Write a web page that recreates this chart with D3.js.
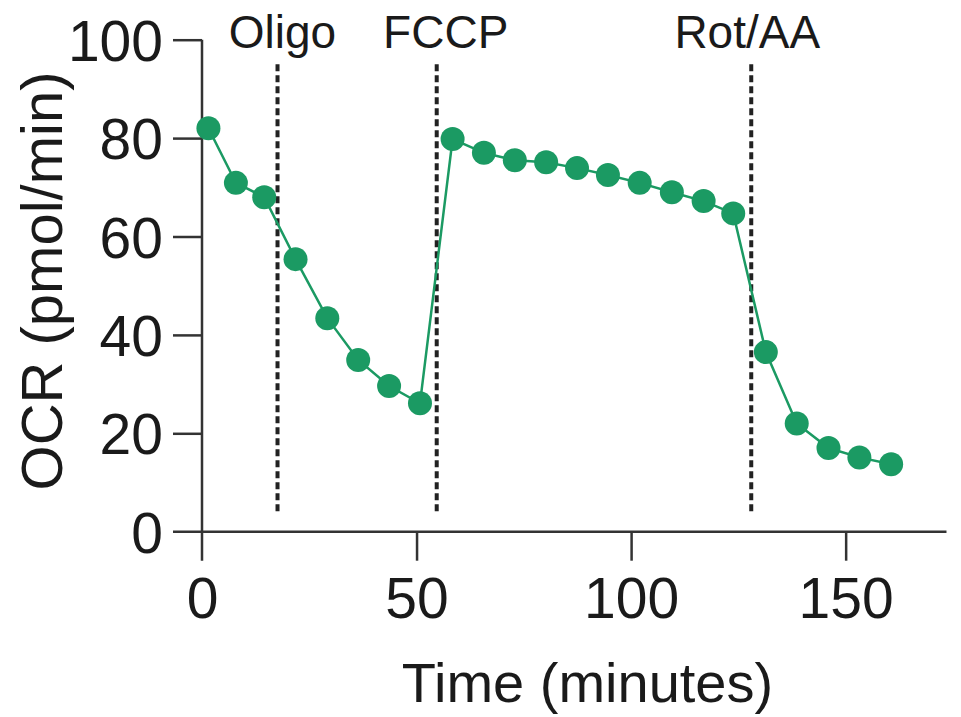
<!DOCTYPE html>
<html>
<head>
<meta charset="utf-8">
<script src="https://cdn.jsdelivr.net/npm/d3@7"></script>
<style>
  body { margin: 0; background: #fff; }
  svg { display: block; }
  text { font-family: "Liberation Sans", Arial, sans-serif; fill: #1a1a1a; }
</style>
</head>
<body>
<div id="chart"></div>
<script>
// OCR trace data
const times = [1.5, 7.9, 14.5, 21.8, 29.2, 36.4, 43.6, 50.8, 58.4, 65.7, 72.9, 80.2,
    87.4, 94.6, 102, 109.5, 116.9, 123.8, 131.4, 138.6, 146, 153.2, 160.6];
const ocr = [82.0, 70.9, 68.0, 55.4, 43.4, 34.9, 29.6, 26.1, 79.8, 77.0, 75.5, 75.1,
    73.9, 72.5, 70.9, 69.0, 67.2, 64.7, 36.5, 22.0, 17.0, 15.1, 13.7];

// injections
const injectionNames = ["Oligo", "FCCP", "Rot/AA"];
const injectionTimes = [17.6, 54.7, 128];
const injectionLabelShift = [5, 9, -4];

const xTicks = [0, 50, 100, 150];
const yTicks = [0, 20, 40, 60, 80, 100];

const width = 961;
const height = 717;
const margin = { top: 40, left: 202, bottom: 185, right: 15 };

const svg = d3.select("#chart")
    .append("svg")
    .attr("width", width)
    .attr("height", height);

// scales
const x = d3.scaleLinear()
    .domain([0, 173.5])
    .range([margin.left, margin.left + 173.5 * 4.291]);

const y = d3.scaleLinear()
    .domain([0, 100])
    .range([531.7, 39.7]);

const axisColor = "#333";
const tickLen = 29;

// y-axis (offset style: line runs down to the x tick)
const yAxis = svg.append("g")
    .attr("transform", "translate(" + x(0) + ",0)")
    .call(
        d3.axisLeft(y)
            .tickValues(yTicks)
            .tickSize(tickLen)
            .tickPadding(10)
            .tickSizeOuter(0)
    );
yAxis.select(".domain").remove();
yAxis.append("line")
    .attr("x1", 0).attr("x2", 0)
    .attr("y1", y(100)).attr("y2", y(0) + tickLen)
    .attr("stroke", axisColor)
    .attr("stroke-width", 2.5);

// x-axis
const xAxis = svg.append("g")
    .attr("transform", "translate(0," + y(0) + ")")
    .call(
        d3.axisBottom(x)
            .tickValues(xTicks)
            .tickSize(tickLen)
            .tickPadding(17)
            .tickSizeOuter(0)
    );
xAxis.select(".domain").remove();
xAxis.append("line")
    .attr("x1", x(0) - tickLen).attr("x2", x(173.5))
    .attr("y1", 0).attr("y2", 0)
    .attr("stroke", axisColor)
    .attr("stroke-width", 2.5);

[xAxis, yAxis].forEach(g => {
    g.selectAll(".tick line")
        .attr("stroke", axisColor)
        .attr("stroke-width", 2.5);
    g.selectAll(".tick text")
        .attr("font-size", "57px")
        .attr("fill", "#1a1a1a")
        .style("font-family", "'Liberation Sans', Arial, sans-serif");
});
yAxis.selectAll(".tick text").attr("dy", "0.36em");
yAxis.selectAll(".tick").filter(d => d === 0).select("line").remove();
xAxis.selectAll(".tick").filter(d => d === 0).select("line").remove();

// axis titles
svg.append("text")
    .attr("x", (393 + 782) / 2)
    .attr("y", 702)
    .attr("text-anchor", "middle")
    .attr("font-size", "56px")
    .text("Time (minutes)");

svg.append("text")
    .attr("transform", "translate(62," + 281 + ") rotate(-90)")
    .attr("text-anchor", "middle")
    .attr("font-size", "58px")
    .text("OCR (pmol/min)");

// injection lines
svg.selectAll(".injection")
    .data(injectionTimes)
    .enter()
    .append("line")
    .attr("class", "injection")
    .attr("x1", d => x(d))
    .attr("x2", d => x(d))
    .attr("y1", y(95))
    .attr("y2", y(3.8))
    .attr("stroke", "#222")
    .attr("stroke-width", 4)
    .attr("stroke-dasharray", "7,4");

svg.selectAll(".injection-label")
    .data(injectionNames)
    .enter()
    .append("text")
    .attr("class", "injection-label")
    .attr("x", (d, i) => x(injectionTimes[i]) + injectionLabelShift[i])
    .attr("y", 48)
    .attr("text-anchor", "middle")
    .attr("font-size", "46px")
    .text(d => d);

// trace
const green = "#1b9a63";
const points = times.map((t, i) => ({ t: t, v: ocr[i] }));

svg.append("path")
    .datum(points)
    .attr("fill", "none")
    .attr("stroke", green)
    .attr("stroke-width", 2.5)
    .attr("d", d3.line().x(d => x(d.t)).y(d => y(d.v)));

svg.selectAll(".pt")
    .data(points)
    .enter()
    .append("circle")
    .attr("class", "pt")
    .attr("cx", d => x(d.t))
    .attr("cy", d => y(d.v))
    .attr("r", 12)
    .attr("fill", green);
</script>
</body>
</html>
